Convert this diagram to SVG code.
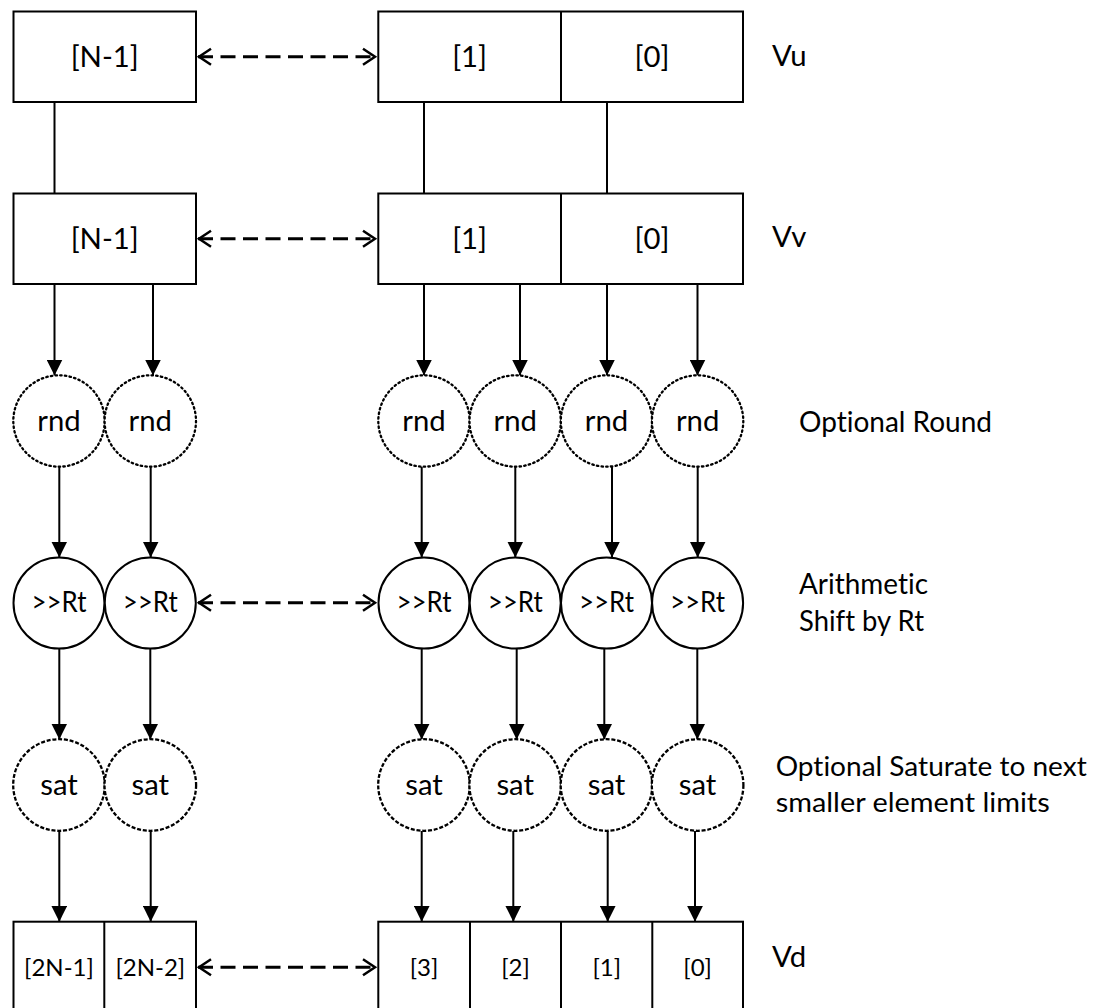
<svg xmlns="http://www.w3.org/2000/svg" width="1097" height="1008" viewBox="0 0 1097 1008">
<style>
  text{font-variant-ligatures:none;font-feature-settings:"liga" 0}
  .box{fill:#fff;stroke:#000;stroke-width:2}
  .div{stroke:#000;stroke-width:2}
  .t{font-family:Lato,"Liberation Sans",sans-serif;font-size:29.3px;fill:#000;text-anchor:middle}
  .ts{font-family:Lato,"Liberation Sans",sans-serif;font-size:24px;fill:#000;text-anchor:middle}
  .lbl{font-family:Lato,"Liberation Sans",sans-serif;font-size:29.3px;fill:#000}
  .lbs{font-family:Lato,"Liberation Sans",sans-serif;font-size:27px;fill:#000}
  .rnd{fill:#fff;stroke:#000;stroke-width:2.3;stroke-dasharray:1.5 3.2;stroke-linecap:round}
  .shf{fill:#fff;stroke:#000;stroke-width:2}
  .sat{fill:#fff;stroke:#000;stroke-width:2.3;stroke-dasharray:4 1.8}
  .ln{stroke:#000;stroke-width:2;fill:none}
  .arr{stroke:#000;stroke-width:2;fill:none;marker-end:url(#fa)}
  .dsh{stroke:#000;stroke-width:3;fill:none;stroke-dasharray:15 7.5;marker-start:url(#oa);marker-end:url(#oa)}
</style>
<defs>
  <marker id="fa" markerUnits="userSpaceOnUse" viewBox="0 0 16 16" refX="16" refY="8" markerWidth="16" markerHeight="16" orient="auto">
    <path d="M0,0 L16,8 L0,16 z" fill="#000"/>
  </marker>
  <marker id="oa" markerUnits="userSpaceOnUse" viewBox="-2 -2 18 20" refX="13" refY="8" markerWidth="18" markerHeight="20" orient="auto-start-reverse">
    <path d="M0,0 L12,8 L0,16" fill="none" stroke="#000" stroke-width="2.5"/>
  </marker>
</defs>

<g id="connectors">
  <line class="ln" x1="54.5" y1="102" x2="54.5" y2="193.5"/>
  <line class="ln" x1="424" y1="102" x2="424" y2="193.5"/>
  <line class="ln" x1="607" y1="102" x2="607" y2="193.5"/>
  <line class="dsh" x1="198" y1="56.7" x2="376" y2="56.7"/>
  <line class="dsh" x1="198" y1="238.7" x2="376" y2="238.7"/>
  <line class="dsh" x1="198" y1="602.7" x2="376" y2="602.7"/>
  <line class="dsh" x1="198" y1="967.3" x2="376" y2="967.3"/>
  <line class="arr" x1="54.5" y1="284" x2="54.5" y2="375.5"/>
  <line class="arr" x1="153" y1="284" x2="153" y2="375.5"/>
  <line class="arr" x1="424" y1="284" x2="424" y2="375.5"/>
  <line class="arr" x1="520" y1="284" x2="520" y2="375.5"/>
  <line class="arr" x1="607" y1="284" x2="607" y2="375.5"/>
  <line class="arr" x1="697.5" y1="284" x2="697.5" y2="375.5"/>
  <line class="arr" x1="59.3" y1="467" x2="59.3" y2="557.5"/>
  <line class="arr" x1="150.7" y1="467" x2="150.7" y2="557.5"/>
  <line class="arr" x1="421.7" y1="467" x2="421.7" y2="557.5"/>
  <line class="arr" x1="515.3" y1="467" x2="515.3" y2="557.5"/>
  <line class="arr" x1="612" y1="467" x2="612" y2="557.5"/>
  <line class="arr" x1="697.7" y1="467" x2="697.7" y2="557.5"/>
  <line class="arr" x1="59.3" y1="648.5" x2="59.3" y2="739.5"/>
  <line class="arr" x1="150.3" y1="648.5" x2="150.3" y2="739.5"/>
  <line class="arr" x1="421.7" y1="648.5" x2="421.7" y2="739.5"/>
  <line class="arr" x1="516.7" y1="648.5" x2="516.7" y2="739.5"/>
  <line class="arr" x1="604.3" y1="648.5" x2="604.3" y2="739.5"/>
  <line class="arr" x1="697.3" y1="648.5" x2="697.3" y2="739.5"/>
  <line class="arr" x1="59.3" y1="831" x2="59.3" y2="921.7"/>
  <line class="arr" x1="150.7" y1="831" x2="150.7" y2="921.7"/>
  <line class="arr" x1="421.7" y1="831" x2="421.7" y2="921.7"/>
  <line class="arr" x1="513.3" y1="831" x2="513.3" y2="921.7"/>
  <line class="arr" x1="607.7" y1="831" x2="607.7" y2="921.7"/>
  <line class="arr" x1="695" y1="831" x2="695" y2="921.7"/>
</g>

<g id="vu-left"><rect class="box" x="13.5" y="11.5" width="182.5" height="90.5"/><text class="t" x="104.75" y="67">[N-1]</text></g>
<g id="vu-right"><rect class="box" x="378.3" y="11.5" width="364.7" height="90.5"/><line class="div" x1="561" y1="11.5" x2="561" y2="102"/><text class="t" x="469.6" y="67">[1]</text><text class="t" x="652" y="67">[0]</text></g>
<g id="vu-label"><text class="lbl" x="772" y="66">Vu</text></g>

<g id="vv-left"><rect class="box" x="13.5" y="193.5" width="182.5" height="90.5"/><text class="t" x="104.75" y="249">[N-1]</text></g>
<g id="vv-right"><rect class="box" x="378.3" y="193.5" width="364.7" height="90.5"/><line class="div" x1="561" y1="193.5" x2="561" y2="284"/><text class="t" x="469.6" y="249">[1]</text><text class="t" x="652" y="249">[0]</text></g>
<g id="vv-label"><text class="lbl" x="772" y="247">Vv</text></g>

<g id="rnd-row">
  <g id="rnd-0"><circle class="rnd" cx="59" cy="421" r="45.7"/><text class="t" x="59" y="431">rnd</text></g>
  <g id="rnd-1"><circle class="rnd" cx="150.3" cy="421" r="45.7"/><text class="t" x="150.3" y="431">rnd</text></g>
  <g id="rnd-2"><circle class="rnd" cx="424" cy="421" r="45.7"/><text class="t" x="424" y="431">rnd</text></g>
  <g id="rnd-3"><circle class="rnd" cx="515.2" cy="421" r="45.7"/><text class="t" x="515.2" y="431">rnd</text></g>
  <g id="rnd-4"><circle class="rnd" cx="606.5" cy="421" r="45.7"/><text class="t" x="606.5" y="431">rnd</text></g>
  <g id="rnd-5"><circle class="rnd" cx="697.6" cy="421" r="45.7"/><text class="t" x="697.6" y="431">rnd</text></g>
</g>
<g id="rnd-label"><text class="lbl" x="799" y="431.5" textLength="193" lengthAdjust="spacingAndGlyphs">Optional Round</text></g>

<g id="shift-row">
  <g id="shf-0"><circle class="shf" cx="59" cy="603" r="45.5"/><text class="t" x="59" y="612" textLength="55" lengthAdjust="spacingAndGlyphs">&gt;&gt;Rt</text></g>
  <g id="shf-1"><circle class="shf" cx="150.3" cy="603" r="45.5"/><text class="t" x="150.3" y="612" textLength="55" lengthAdjust="spacingAndGlyphs">&gt;&gt;Rt</text></g>
  <g id="shf-2"><circle class="shf" cx="424" cy="603" r="45.5"/><text class="t" x="424" y="612" textLength="55" lengthAdjust="spacingAndGlyphs">&gt;&gt;Rt</text></g>
  <g id="shf-3"><circle class="shf" cx="515.2" cy="603" r="45.5"/><text class="t" x="515.2" y="612" textLength="55" lengthAdjust="spacingAndGlyphs">&gt;&gt;Rt</text></g>
  <g id="shf-4"><circle class="shf" cx="606.5" cy="603" r="45.5"/><text class="t" x="606.5" y="612" textLength="55" lengthAdjust="spacingAndGlyphs">&gt;&gt;Rt</text></g>
  <g id="shf-5"><circle class="shf" cx="697.6" cy="603" r="45.5"/><text class="t" x="697.6" y="612" textLength="55" lengthAdjust="spacingAndGlyphs">&gt;&gt;Rt</text></g>
</g>
<g id="shift-label"><text class="lbl" x="799" y="594.3" textLength="129" lengthAdjust="spacingAndGlyphs">Arithmetic</text><text class="lbl" x="799" y="630.7" textLength="125" lengthAdjust="spacingAndGlyphs">Shift by Rt</text></g>

<g id="sat-row">
  <g id="sat-0"><circle class="sat" cx="59" cy="785" r="45.8"/><text class="t" x="59" y="794.5">sat</text></g>
  <g id="sat-1"><circle class="sat" cx="150.3" cy="785" r="45.8"/><text class="t" x="150.3" y="794.5">sat</text></g>
  <g id="sat-2"><circle class="sat" cx="424" cy="785" r="45.8"/><text class="t" x="424" y="794.5">sat</text></g>
  <g id="sat-3"><circle class="sat" cx="515.2" cy="785" r="45.8"/><text class="t" x="515.2" y="794.5">sat</text></g>
  <g id="sat-4"><circle class="sat" cx="606.5" cy="785" r="45.8"/><text class="t" x="606.5" y="794.5">sat</text></g>
  <g id="sat-5"><circle class="sat" cx="697.6" cy="785" r="45.8"/><text class="t" x="697.6" y="794.5">sat</text></g>
</g>
<g id="sat-label"><text class="lbs" x="775.7" y="775.7" textLength="311" lengthAdjust="spacingAndGlyphs">Optional Saturate to next</text><text class="lbs" x="775.7" y="811.7" textLength="274" lengthAdjust="spacingAndGlyphs">smaller element limits</text></g>

<g id="vd-left"><rect class="box" x="13.5" y="921.7" width="182.5" height="95"/><line class="div" x1="104.3" y1="921.7" x2="104.3" y2="1010"/><text class="ts" x="59" y="976">[2N-1]</text><text class="ts" x="150.3" y="976">[2N-2]</text></g>
<g id="vd-right"><rect class="box" x="378.3" y="921.7" width="364.7" height="95"/><line class="div" x1="470" y1="921.7" x2="470" y2="1010"/><line class="div" x1="561" y1="921.7" x2="561" y2="1010"/><line class="div" x1="652.3" y1="921.7" x2="652.3" y2="1010"/><text class="ts" x="424" y="976">[3]</text><text class="ts" x="515.5" y="976">[2]</text><text class="ts" x="606.7" y="976">[1]</text><text class="ts" x="697.6" y="976">[0]</text></g>
<g id="vd-label"><text class="lbl" x="772" y="967">Vd</text></g>
</svg>
